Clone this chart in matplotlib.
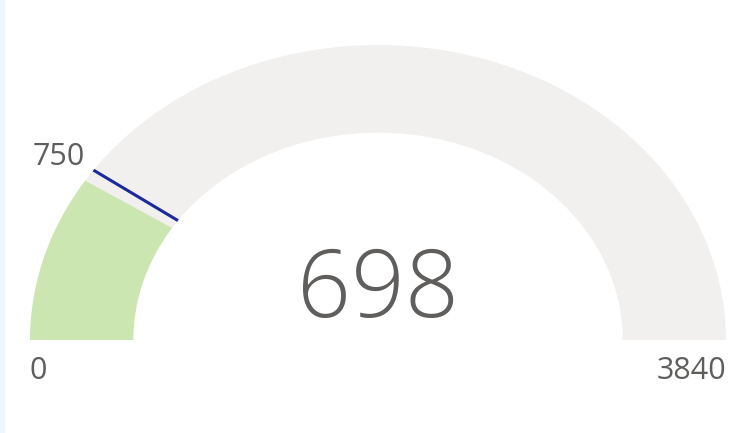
import matplotlib.pyplot as plt
import numpy as np
from matplotlib.patches import Wedge, Rectangle

# gauge data
min_value = 0
max_value = 3840
value = 698
target = 750

FILL = "#cce6b1"
TRACK = "#f1f0ef"
TARGET = "#1a2a9c"
TEXT = "#605e5c"
RING = 0.297  # ring thickness as fraction of outer radius


def to_angle(v):
    # 0 -> 180 deg (left), max -> 0 deg (right)
    return 180 - 180 * (v - min_value) / (max_value - min_value)


def main():
    fig = plt.figure(figsize=(7.3, 4.33), dpi=100)
    ax = fig.add_axes([0, 0, 1, 1])
    ax.set_xlim(-1.0862, 1.0115)
    ax.set_ylim(-0.3153, 1.1525)
    ax.axis("off")

    # thin left border strip
    fig.patches.append(Rectangle((0, 0), 4 / 730, 1, transform=fig.transFigure,
                                 color="#eef5fd", zorder=0))

    a_val = to_angle(value)
    ax.add_patch(Wedge((0, 0), 1, 0, a_val, width=RING, color=TRACK, lw=0))
    ax.add_patch(Wedge((0, 0), 1, a_val, 180, width=RING, color=FILL, lw=0))

    a_tgt = np.radians(to_angle(target))
    ax.plot([np.cos(a_tgt) * (1 - RING), np.cos(a_tgt)],
            [np.sin(a_tgt) * (1 - RING), np.sin(a_tgt)],
            color=TARGET, lw=2.2, solid_capstyle="butt")

    font = ["Open Sans", "DejaVu Sans"]
    ax.text(-1.0, -0.106, f"{min_value}", ha="left", va="center",
            fontsize=22, color=TEXT, family=font)
    ax.text(1.0, -0.106, f"{max_value}", ha="right", va="center",
            fontsize=22, color=TEXT, family=font)
    ax.text(np.cos(a_tgt) - 0.024, np.sin(a_tgt) + 0.044, f"{target}",
            ha="right", va="center", fontsize=22, color=TEXT, family=font)
    ax.text(0, 0.16, f"{value}", ha="center", va="center",
            fontsize=68, color=TEXT, family=font, fontweight="light")

    fig.savefig("out.png", dpi=100, facecolor="white")


if __name__ == "__main__":
    main()
